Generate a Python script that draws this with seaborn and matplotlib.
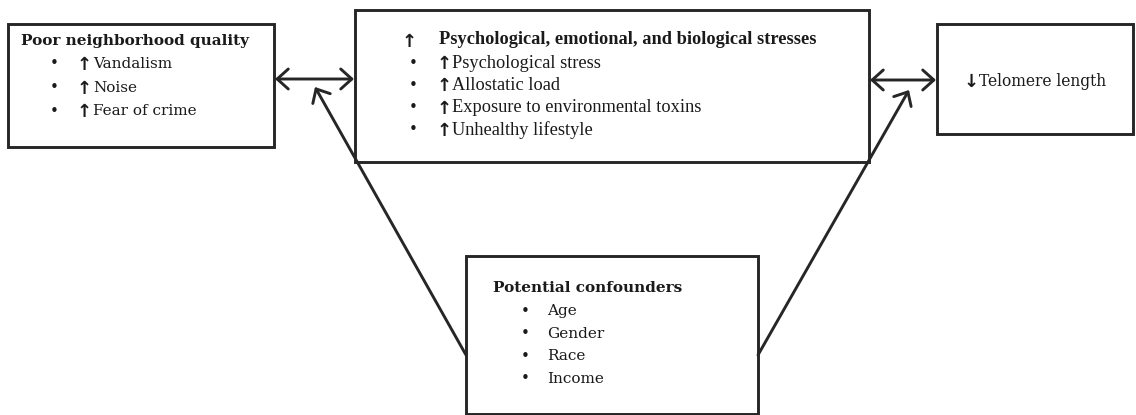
import matplotlib
matplotlib.use("Agg")
import matplotlib.pyplot as plt
import seaborn as sns
from matplotlib.patches import Rectangle, FancyArrowPatch

sns.set_theme(style="white")

# ---- content ----
left_title = "Poor neighborhood quality"
left_items = ["Vandalism", "Noise", "Fear of crime"]
mid_title = "Psychological, emotional, and biological stresses"
mid_items = ["Psychological stress", "Allostatic load",
             "Exposure to environmental toxins", "Unhealthy lifestyle"]
right_text = "Telomere length"
bottom_title = "Potential confounders"
bottom_items = ["Age", "Gender", "Race", "Income"]

W, H = 1136, 415
fig = plt.figure(figsize=(W / 100, H / 100), dpi=100)
ax = fig.add_axes([0, 0, 1, 1])
ax.set_xlim(0, W)
ax.set_ylim(H, 0)
ax.axis("off")

EC = "#262626"
TC = "#1a1a1a"
LW = 2.1
CAMB = "DejaVu Serif"
TIMES = "Liberation Serif"
ARW = "DejaVu Sans"

def box(x0, y0, x1, y1):
    ax.add_patch(Rectangle((x0, y0), x1 - x0, y1 - y0, fill=False,
                           edgecolor=EC, linewidth=LW))

def arrow(p0, p1, style):
    ax.add_patch(FancyArrowPatch(p0, p1, arrowstyle=style,
                                 mutation_scale=16, color=EC, linewidth=LW,
                                 shrinkA=0, shrinkB=0))

def up(x, y, ch="↑"):
    ax.text(x, y, ch, fontsize=13, fontweight="bold", family=ARW,
            va="center", ha="left", color=TC)

# boxes
box(8, 24, 274, 147)
box(355, 10, 869, 162)
box(937, 24, 1133, 134)
box(466, 256, 758, 414)

# arrows
arrow((275, 79), (354, 79), "<->,head_length=0.5,head_width=0.45")
arrow((870, 80), (936, 80), "<->,head_length=0.5,head_width=0.45")
arrow((466, 355), (315, 87), "->,head_length=0.5,head_width=0.45")
arrow((758, 355), (909, 90), "->,head_length=0.5,head_width=0.45")

# left box text
ax.text(21, 41, left_title, fontsize=11, fontweight="bold", family=CAMB,
        va="center", ha="left", color=TC)
for i, t in enumerate(left_items):
    y = 64 + i * 23.5
    ax.text(54, y, "•", fontsize=11, family=ARW, va="center", ha="center", color=TC)
    up(77, y + 1)
    ax.text(93, y, t, fontsize=11, family=CAMB, va="center", ha="left", color=TC)

# middle box text
up(402, 42)
ax.text(439, 40, mid_title, fontsize=13.2, fontweight="bold", family=TIMES,
        va="center", ha="left", color=TC)
for i, t in enumerate(mid_items):
    y = 63 + i * 22.3
    ax.text(413, y, "•", fontsize=11, family=ARW, va="center", ha="center", color=TC)
    up(437, y + 1)
    ax.text(452, y, t, fontsize=13.2, family=TIMES, va="center", ha="left", color=TC)

# right box text
up(964, 82, "↓")
ax.text(979, 82, right_text, fontsize=11.2, family=CAMB, va="center", ha="left", color=TC)

# bottom box text
ax.text(493, 288, bottom_title, fontsize=11, fontweight="bold", family=CAMB,
        va="center", ha="left", color=TC)
for i, t in enumerate(bottom_items):
    y = 311 + i * 22.5
    ax.text(525, y, "•", fontsize=11, family=ARW, va="center", ha="center", color=TC)
    ax.text(547, y, t, fontsize=11, family=CAMB, va="center", ha="left", color=TC)

fig.savefig("out.png", dpi=100, facecolor="white")
